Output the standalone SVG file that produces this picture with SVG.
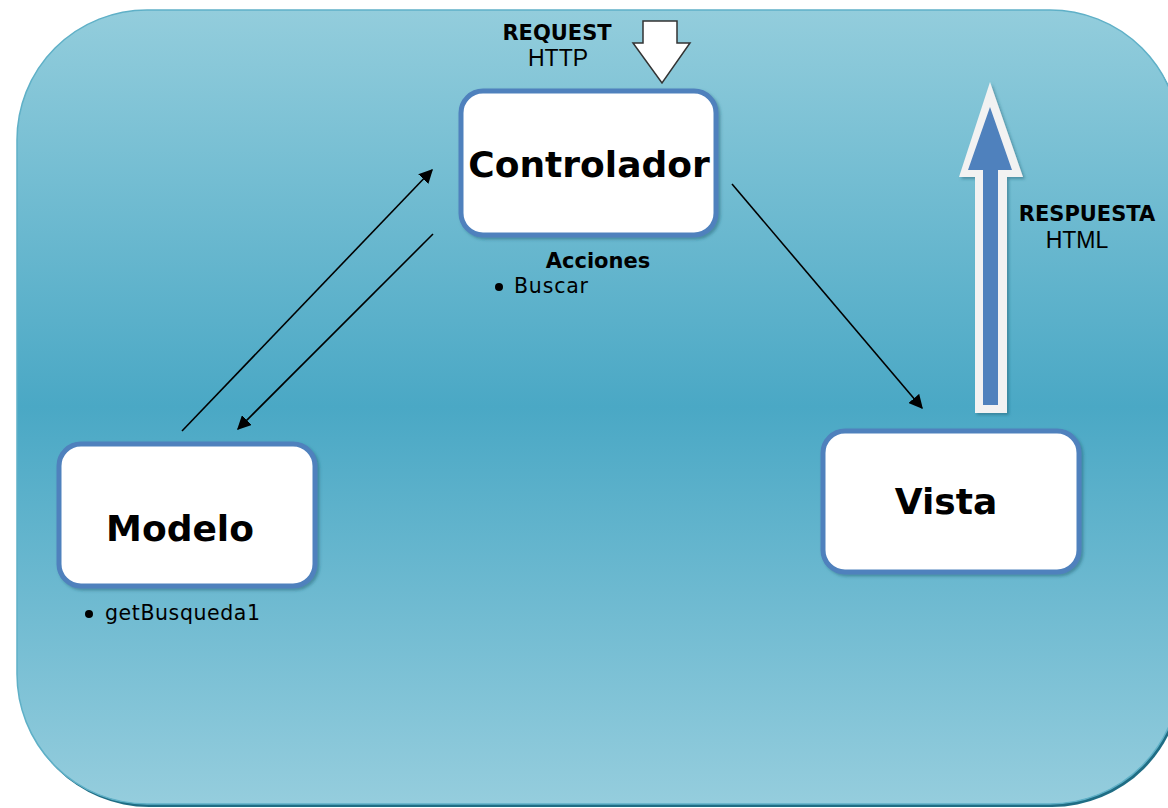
<svg xmlns="http://www.w3.org/2000/svg" width="1168" height="808" viewBox="0 0 1168 808">
  <defs>
    <linearGradient id="bg" x1="0" y1="0" x2="0" y2="1">
      <stop offset="0" stop-color="#93CDDC"/>
      <stop offset="0.5" stop-color="#4AA8C5"/>
      <stop offset="1" stop-color="#95CDDD"/>
    </linearGradient>
    <marker id="ah" viewBox="0 0 10 10" refX="9" refY="5" markerWidth="14" markerHeight="14" markerUnits="userSpaceOnUse" orient="auto">
      <path d="M0,0 L10,5 L0,10 Z" fill="#000"/>
    </marker>
    <filter id="sh" x="-10%" y="-10%" width="130%" height="130%">
      <feDropShadow dx="2" dy="2" stdDeviation="1.5" flood-color="#1d5f73" flood-opacity="0.5"/>
    </filter>
  </defs>
  <style>
    .box { fill: #FFFFFF; stroke: #4F81BD; stroke-width: 5; }
    .title { font-family: "DejaVu Sans", Verdana, sans-serif; font-weight: bold; font-size: 36px; fill: #000; text-anchor: middle; }
    .lblb { font-family: "DejaVu Sans", Verdana, sans-serif; font-weight: bold; font-size: 21px; fill: #000; }
    .lbl { font-family: "Liberation Sans", Arial, sans-serif; font-size: 23px; fill: #000; }
    .small { font-family: "DejaVu Sans", Verdana, sans-serif; font-size: 20.5px; fill: #000; }
    .conn { stroke: #000; stroke-width: 1.6; fill: none; marker-end: url(#ah); }
  </style>

  <rect width="1168" height="808" fill="#FFFFFF"/>
  <!-- background panel -->
  <rect x="19" y="13" width="1163" height="794" rx="130" ry="130" fill="#1f6d84"/>
  <rect x="17" y="10" width="1163" height="794" rx="130" ry="130" fill="url(#bg)" stroke="#5FB0C7" stroke-width="1.5"/>

  <!-- request arrow -->
  <path d="M643,21 L677,21 L677,43 L690,43 L662,83 L633,43 L643,43 Z" fill="#FFFFFF" stroke="#333" stroke-width="1.5"/>
  <text class="lblb" x="557" y="40" text-anchor="middle">REQUEST</text>
  <text class="lbl" x="558" y="66" text-anchor="middle">HTTP</text>

  <!-- response arrow -->
  <path d="M990,82 L1023,177 L1007,177 L1007,413 L975,413 L975,177 L959,177 Z" fill="#F2F2F2" filter="url(#sh)"/>
  <path d="M990,107 L1012,170 L998,170 L998,405 L983,405 L983,170 L968,170 Z" fill="#4F81BD"/>
  <text class="lblb" x="1087" y="221" text-anchor="middle">RESPUESTA</text>
  <text class="lbl" x="1077" y="248" text-anchor="middle">HTML</text>

  <g id="connectors">
    <line class="conn" x1="182" y1="431" x2="432" y2="170"/>
    <line class="conn" x1="433" y1="234" x2="238" y2="429"/>
    <line class="conn" x1="732" y1="184" x2="922" y2="408"/>
  </g>

  <g id="controlador">
    <rect class="box" x="461" y="91" width="255" height="144" rx="22" ry="22" filter="url(#sh)"/>
    <text class="title" x="589" y="177">Controlador</text>
    <text class="lblb" x="598" y="268" text-anchor="middle" font-size="22">Acciones</text>
    <circle cx="499" cy="287" r="4" fill="#000"/>
    <text class="small" x="514" y="293" textLength="74" lengthAdjust="spacing">Buscar</text>
  </g>

  <g id="modelo">
    <rect class="box" x="59" y="444" width="256" height="142" rx="22" ry="22" filter="url(#sh)"/>
    <text class="title" x="180" y="541">Modelo</text>
    <circle cx="89" cy="614" r="4" fill="#000"/>
    <text class="small" x="105" y="620" textLength="155" lengthAdjust="spacing">getBusqueda1</text>
  </g>

  <g id="vista">
    <rect class="box" x="823" y="431" width="256" height="141" rx="22" ry="22" filter="url(#sh)"/>
    <text class="title" x="946" y="514">Vista</text>
  </g>
</svg>
